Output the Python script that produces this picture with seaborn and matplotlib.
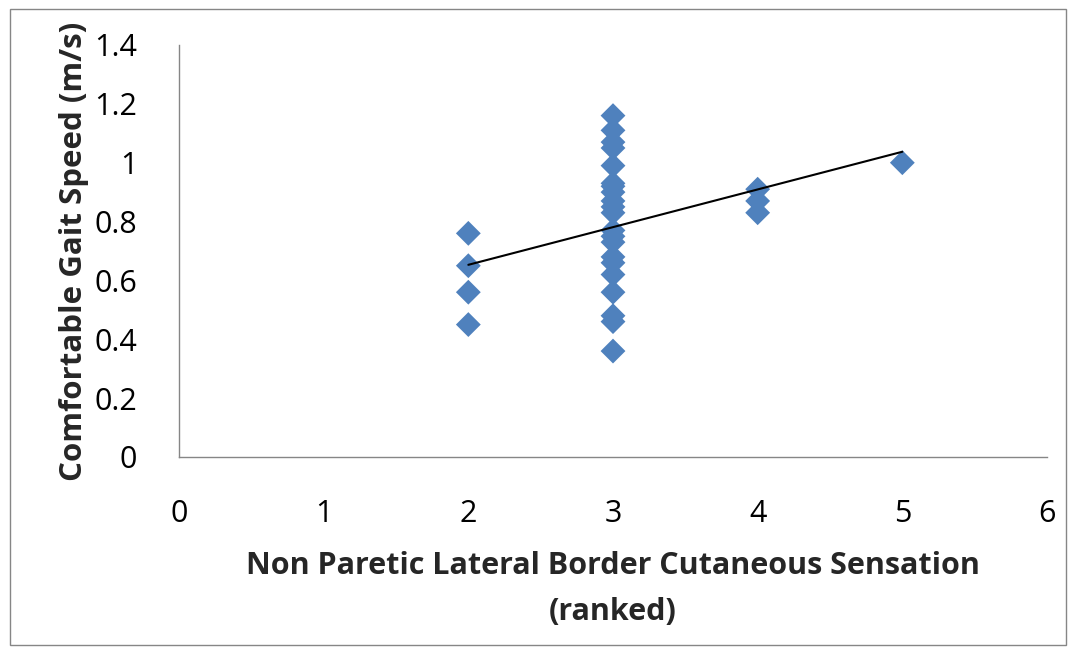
import numpy as np
import pandas as pd
import matplotlib
matplotlib.use("Agg")
import matplotlib.pyplot as plt
import seaborn as sns
from matplotlib.patches import Rectangle

sensation = [2, 2, 2, 2,
             3, 3, 3, 3, 3, 3, 3, 3, 3, 3, 3, 3, 3, 3, 3, 3, 3, 3, 3, 3, 3,
             4, 4, 4,
             5]
gait_speed = [0.76, 0.65, 0.56, 0.45,
              1.16, 1.11, 1.07, 1.05, 0.99, 0.93, 0.92, 0.90, 0.87, 0.85, 0.83,
              0.77, 0.75, 0.73, 0.68, 0.66, 0.62, 0.56, 0.48, 0.46, 0.36,
              0.91, 0.87, 0.83,
              1.00]
xticks = [0, 1, 2, 3, 4, 5, 6]
yticks = [0, 0.2, 0.4, 0.6, 0.8, 1.0, 1.2, 1.4]
ytick_labels = ["0", "0.2", "0.4", "0.6", "0.8", "1", "1.2", "1.4"]

df = pd.DataFrame({"x": sensation, "y": gait_speed})

sns.set_style("white")
plt.rcParams['font.family'] = ['Open Sans', 'DejaVu Sans']

fig = plt.figure(figsize=(10.74, 6.52), dpi=100)
ax = fig.add_axes([179/1074, 1-457/652, (1047-179)/1074, (457-45)/652])

sns.scatterplot(data=df, x="x", y="y", marker="D", s=160, color="#4F81BD",
                edgecolor="none", ax=ax, zorder=3)

# linear trendline
slope, intercept = np.polyfit(df["x"], df["y"], 1)
xs = np.array([min(sensation), max(sensation)])
ax.plot(xs, slope * xs + intercept, color="black", lw=1.5, zorder=4)

ax.set_xlim(0, 6)
ax.set_ylim(0, 1.4)
ax.set_xticks(xticks)
ax.set_yticks(yticks)
ax.set_yticklabels(ytick_labels)
ax.tick_params(axis='both', labelsize=22, colors="black", length=8, width=1,
               direction="out", color="#868686")
ax.tick_params(axis='x', pad=22)
ax.tick_params(axis='y', pad=22)
for s in ["top", "right"]:
    ax.spines[s].set_visible(False)
for s in ["left", "bottom"]:
    ax.spines[s].set_color("#868686")
    ax.spines[s].set_linewidth(1)

ax.set_xlabel("Non Paretic Lateral Border Cutaneous Sensation\n(ranked)",
              fontsize=22, fontweight="bold", labelpad=16, linespacing=1.72)
ax.set_ylabel("Comfortable Gait Speed (m/s)", fontsize=22.5, fontweight="bold",
              labelpad=4)
ax.yaxis.set_label_coords(-0.124, 0.4, transform=ax.transAxes) if False else None

fig.patches.append(Rectangle((10/1074, 1-645/652), (1066-10)/1074, (645-9)/652,
                             transform=fig.transFigure, fill=False,
                             edgecolor="#868686", lw=1))

fig.savefig("out.png", dpi=100)
